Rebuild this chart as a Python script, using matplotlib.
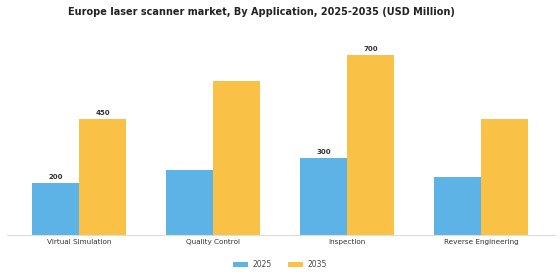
import numpy as np
import matplotlib
matplotlib.use("Agg")
from matplotlib import pyplot as plt

categories = ["Virtual Simulation", "Quality Control", "Inspection", "Reverse Engineering"]
years = ["2025", "2035"]
values_2025 = [200, 250, 300, 225]
values_2035 = [450, 600, 700, 450]
labels_2025 = ["200", "", "300", ""]
labels_2035 = ["450", "", "700", ""]

blue = "#5db2e6"
yellow = "#f9c247"

fig = plt.figure(figsize=(5.6, 2.8), dpi=100)
ax = fig.add_axes([0.0125, 0.1625, 0.9786, 0.7125])

x = np.arange(len(categories))
w = 0.35
b1 = ax.bar(x - w / 2, values_2025, w, color=blue, label=years[0])
b2 = ax.bar(x + w / 2, values_2035, w, color=yellow, label=years[1])

for bars, labs in ((b1, labels_2025), (b2, labels_2035)):
    for r, t in zip(bars, labs):
        if t:
            ax.text(r.get_x() + r.get_width() / 2, r.get_height() + 12, t,
                    ha="center", va="bottom", fontsize=5, fontweight="bold", color="#333333")

ax.set_xlim(-0.537, 3.55)
ax.set_ylim(0, 779)
ax.set_xticks(x)
ax.set_xticklabels(categories, fontsize=5.2, color="#333333")
ax.tick_params(axis="x", length=0, pad=3)
ax.set_yticks([])
for s in ("top", "right", "left"):
    ax.spines[s].set_visible(False)
ax.spines["bottom"].set_color("#dddddd")
ax.spines["bottom"].set_linewidth(0.8)

fig.suptitle("Europe laser scanner market, By Application, 2025-2035 (USD Million)",
             fontsize=7, fontweight="bold", color="#222222", x=0.466, y=0.975)

fig.legend(handles=[b1, b2], labels=years, loc="center", bbox_to_anchor=(0.5, 0.055),
           ncol=2, frameon=False, fontsize=5.5, handlelength=1.9, handleheight=0.6,
           handletextpad=0.6, columnspacing=2.2, labelcolor="#444444")

fig.savefig("out.png", dpi=100)
